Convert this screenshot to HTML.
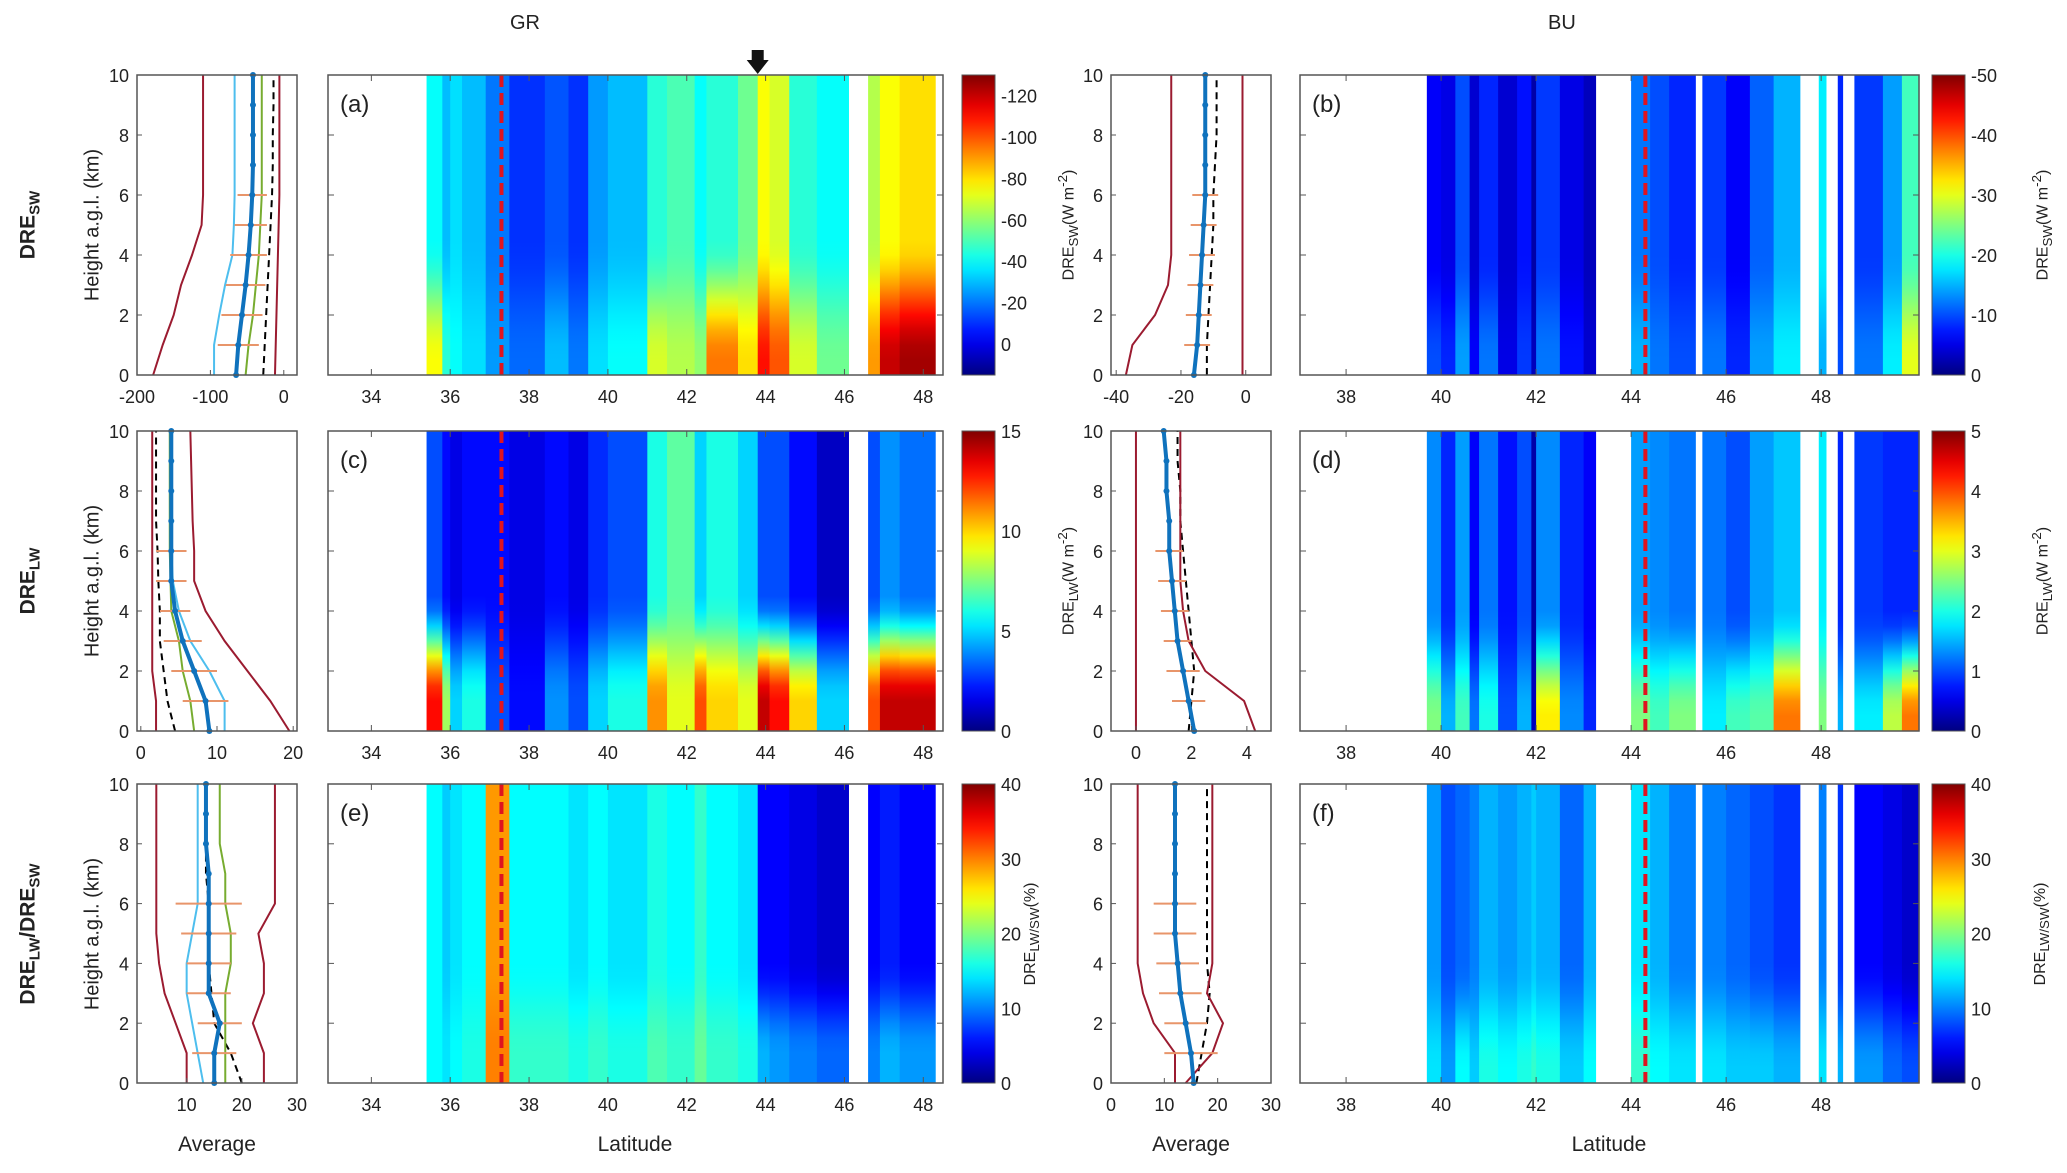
<!DOCTYPE html>
<html><head><meta charset="utf-8"><style>
html,body{margin:0;padding:0;background:#fff;}
svg{display:block;font-family:"Liberation Sans",sans-serif;}
</style></head><body>
<svg id="fig" width="2067" height="1173" viewBox="0 0 2067 1173" xmlns="http://www.w3.org/2000/svg"><defs id="defs"></defs></svg>
<script>
// ---------- data ----------
const heights = [0,1,2,3,4,5,6,7,8,9,10];
const errHeights = [1,2,3,4,5,6];
const grLatTicks = [34,36,38,40,42,44,46,48];
const buLatTicks = [38,40,42,44,46,48];
const hTicks = [0,2,4,6,8,10];
const grEdges = [35.4,35.8,36.0,36.3,36.9,37.5,38.4,39.0,39.5,40.0,41.0,41.5,42.2,42.5,43.3,43.8,44.1,44.6,45.3,46.1,46.6,46.9,47.4,48.3];
const buEdges = [39.7,40.0,40.3,40.6,40.8,41.2,41.6,41.9,42.0,42.5,43.0,43.25,44.0,44.4,44.8,45.35,45.5,46.0,46.5,47.0,47.55,47.95,48.1,48.35,48.45,48.7,49.3,49.7,50.06];
const N = null;
const aBot = [-75,-45,-40,-35,-25,-18,-30,-20,-35,-40,-70,-65,-60,-95,-80,-110,-100,-70,-55,N,-90,-120,-125];
const aTop = [-40,-30,-35,-30,-20,-10,-15,-10,-25,-30,-45,-50,-40,-45,-55,-75,-70,-45,-40,N,-65,-75,-80];
const cBot = [13,8,5,6,3,2,4,3,5,6,11,9,12,10,9,14,13,10,5,N,12,14,14];
const cTop = [3,2,1.5,2,2,1.5,2,1.5,2.5,3,6,7,5,6,5,3,3,2,1,N,3,4,3.5];
const eBot = [15,14,15,16,30,17,17,16,17,16,18,17,19,17,16,12,11,10,9,N,10,12,11];
const eTop = [15,13,14,15,29,15,15,14,15,14,16,15,17,15,14,5,5,4,3,N,5,6,5];
const bBot = [-10,-8,-14,-6,-12,-5,-9,-3,-12,-7,-4,N,-15,-12,-10,N,-12,-8,-14,-18,N,-15,N,-10,N,-12,-18,-30];
const bTop = [-6,-5,-10,-4,-8,-4,-7,-2,-9,-5,-3,N,-12,-10,-8,N,-9,-6,-11,-15,N,-18,N,-8,N,-9,-14,-22];
const dBot = [2.5,1.5,2.2,1.2,2,1,1.5,0.3,3.2,1.3,0.8,N,2.5,2.2,2.5,N,1.8,2.2,2.3,3.8,N,2.5,N,1.5,N,1.8,2.8,3.8];
const dTop = [1.3,0.8,1.4,0.6,1.2,0.7,1,0.2,1.3,0.8,0.6,N,1.4,1.3,1.2,N,1.2,1,1.4,1.6,N,1.8,N,0.8,N,0.9,0.8,0.8];
const fBot = [14,11,15,13,16,15,16,17,16,13,15,N,17,15,14,N,14,13,13,12,N,14,N,12,N,11,9,8];
const fTop = [11,8,9,10,12,11,12,13,12,9,12,N,14,12,10,N,10,9,8,7,N,10,N,7,N,5,4,3];
const cbTicksA = [-120,-100,-80,-60,-40,-20,0];
const cbTicksB = [-50,-40,-30,-20,-10,0];
const cbTicksC = [0,5,10,15];
const cbTicksD = [0,1,2,3,4,5];
const cbTicksE = [0,10,20,30,40];
// profile series
const pa = {redL:[-178,-165,-150,-140,-125,-112,-110,-110,-110,-110,-110], lblue:[-95,-95,-88,-80,-70,-68,-67,-67,-67,-67,-67], green:[-52,-48,-42,-38,-34,-32,-30,-30,-30,-30,-30], dash:[-28,-26,-24,-22,-20,-18,-16,-15,-15,-14,-14], redR:[-12,-11,-10,-9,-8,-7,-6,-6,-6,-6,-6], mean:[-65,-62,-57,-52,-48,-45,-43,-42,-42,-42,-42]};
const paErr = [28,28,27,25,22,20];
const pc = {redL:[2,2,1.5,1.5,1.5,1.5,1.5,1.5,1.5,1.5,1.5], dash:[4.5,3.5,3,2.5,2.5,2.3,2.2,2,2,2,2], green:[7,6.5,5.5,5,4,3.9,3.8,3.8,3.8,3.8,3.8], lblue:[11,11,9,6.5,5,4.2,4,4,4,4,4], redR:[19.5,17,14,11,8.5,7,7,6.8,6.7,6.6,6.5], mean:[9,8.5,7,5.5,4.5,4,4,4,4,4,4]};
const pcErr = [3,3,2.5,2,2,2];
const pe = {redL:[10,10,8,6,5,4.5,4.5,4.5,4.5,4.5,4.5], lblue:[13,12,11,10,10,11,12,12,12,12,12], dash:[20,18,15,14.5,14,14,14,13.5,13.5,13.5,13.5], green:[17,17,17,17,18,18,17,17,16,16,16], redR:[24,24,22,24,24,23,26,26,26,26,26], mean:[15,15,16,14,14,14,14,14,13.5,13.5,13.5]};
const peErr = [4,4,4,4,5,6];
const pb = {redL:[-37,-35,-28,-24,-23,-23,-23,-23,-23,-23,-23], dash:[-12,-12,-11.5,-11,-10.5,-10,-10,-9.5,-9,-9,-9], redR:[-1,-1,-1,-1,-1,-1,-1,-1,-1,-1,-1], mean:[-16,-15,-14.5,-14,-13.5,-13,-12.5,-12.5,-12.5,-12.5,-12.5]};
const pbErr = [4,4,4,4,4,4];
const pd = {redL:[0,0,0,0,0,0,0,0,0,0,0], dash:[1.9,2.0,2.1,2.0,1.9,1.8,1.7,1.6,1.6,1.5,1.5], redR:[4.3,3.9,2.5,1.9,1.7,1.6,1.6,1.6,1.6,1.6,1.6], mean:[2.1,1.9,1.7,1.5,1.4,1.3,1.2,1.2,1.1,1.1,1.0]};
const pdErr = [0.6,0.6,0.5,0.5,0.5,0.5];
const pf = {redL:[12,12,8,6,5,5,5,5,5,5,5], dash:[16,17,18,18.5,18,18,18,18,18,18,18], redR:[14,19,21,18,19,19,19,19,19,19,19], mean:[15.5,15,14,13,12.5,12,12,12,12,12,12]};
const pfErr = [5,4,4,4,4,4];

// ---------- helpers ----------
const NS="http://www.w3.org/2000/svg";
const svg=document.getElementById('fig'); const defs=document.getElementById('defs');
function mk(tag,attrs,parent){const e=document.createElementNS(NS,tag);for(const k in attrs)e.setAttribute(k,attrs[k]);(parent||svg).appendChild(e);return e;}
function jet(t){t=Math.max(0,Math.min(1,t));const c=x=>Math.round(255*Math.max(0,Math.min(1,1.5-Math.abs(x))));return `rgb(${c(4*t-3)},${c(4*t-2)},${c(4*t-1)})`;}
function txt(x,y,s,size,anchor,rot,parent){const t=mk('text',{x:x,y:y,'font-size':size,'text-anchor':anchor||'middle',fill:'#222'},parent);if(rot)t.setAttribute('transform',`rotate(${rot} ${x} ${y})`);t.textContent=s;return t;}
function prof(h,hb,ht){if(h<=hb)return 1;if(h>=ht)return 0;const u=(h-hb)/(ht-hb);return 1-u*u*(3-2*u);}
let gid=0;
const rowsY=[[75,375],[431,731],[784,1083]];
const GR={sx:137,sw:160,hx:328,hw:615,cx:962,cw:33,lat:[32.9,48.5]};
const BU={sx:1111,sw:160,hx:1300,hw:619,cx:1932,cw:33,lat:[37.03,50.06]};

function heat(col,row,edges,bot,top,blue,red,hb,ht,dashLat,label,latTicks){
  const [y0,y1]=rowsY[row]; const H=y1-y0;
  const xs=l=>col.hx+(l-col.lat[0])/(col.lat[1]-col.lat[0])*col.hw;
  const g=mk('g',{});
  
  
  for(let i=0;i<bot.length;i++){
    if(bot[i]===null)continue;
    const id='g'+(gid++);
    const lg=mk('linearGradient',{id:id,x1:0,y1:1,x2:0,y2:0},defs);
    for(let k=0;k<=20;k++){const h=k/2;const v=top[i]+(bot[i]-top[i])*prof(h,hb,ht);mk('stop',{offset:h/10,'stop-color':jet((v-blue)/(red-blue))},lg);}
    const r=mk('rect',{x:xs(edges[i]),y:y0,width:xs(edges[i+1])-xs(edges[i])+0.6,height:H,fill:`url(#${id})`},g);
    
    
  }
  const dl=mk('line',{x1:xs(dashLat),x2:xs(dashLat),y1:y0,y2:y1,stroke:'#e0141e','stroke-width':4,'stroke-dasharray':'12 6'},g);
  
  
  const fr=mk('rect',{x:col.hx,y:y0,width:col.hw,height:H,fill:'none',stroke:'#555','stroke-width':1.5},g);
  
  
  latTicks.forEach(l=>{mk('line',{x1:xs(l),x2:xs(l),y1:y1,y2:y1-6,stroke:'#555'},g);mk('line',{x1:xs(l),x2:xs(l),y1:y0,y2:y0+6,stroke:'#555'},g);
    const t=txt(xs(l),y1+28,String(l),18,'middle',0,g);});
  hTicks.forEach(h=>{const yy=y1-h/10*H;mk('line',{x1:col.hx,x2:col.hx+6,y1:yy,y2:yy,stroke:'#555'},g);mk('line',{x1:col.hx+col.hw,x2:col.hx+col.hw-6,y1:yy,y2:yy,stroke:'#555'},g);});
  const pl=txt(col.hx+12,y0+37,'('+label+')',24,'start',0,g);
  
  
}
function cbar(col,row,blue,red,ticks,name){
  const [y0,y1]=rowsY[row]; const H=y1-y0;
  const id='cb'+(gid++);
  const lg=mk('linearGradient',{id:id,x1:0,y1:1,x2:0,y2:0},defs);
  for(let i=0;i<=20;i++)mk('stop',{offset:i/20,'stop-color':jet(i/20)},lg);
  const r=mk('rect',{x:col.cx,y:y0,width:col.cw,height:H,fill:`url(#${id})`,stroke:'#555','stroke-width':1});
  
  
  ticks.forEach(v=>{const yy=y1-(v-blue)/(red-blue)*H;const t=txt(col.cx+col.cw+6,yy+7,String(v),18,'start');
    });
}
function profile(col,row,xr,xticks,series,err,name){
  const [y0,y1]=rowsY[row]; const H=y1-y0;
  const xs=v=>col.sx+(v-xr[0])/(xr[1]-xr[0])*col.sw; const ys=h=>y1-h/10*H;
  const g=mk('g',{});
  
  
  const styles={redL:['#9b1b30',2,''],redR:['#9b1b30',2,''],lblue:['#4dbeee',2,''],green:['#77ac30',2,''],dash:['#000',2,'7 5'],mean:['#0f72bd',4,'']};
  for(const k in series){
    const pts=series[k].map((v,i)=>xs(v)+','+ys(heights[i])).join(' ');
    const pl=mk('polyline',{points:pts,fill:'none',stroke:styles[k][0],'stroke-width':styles[k][1],'stroke-dasharray':styles[k][2]},g);
    
    
  }
  errHeights.forEach((h,i)=>{const m=series.mean[h];const e=mk('line',{x1:xs(m-err[i]),x2:xs(m+err[i]),y1:ys(h),y2:ys(h),stroke:'#e8956a','stroke-width':2},g);
    });
  series.mean.forEach((v,i)=>{const c=mk('circle',{cx:xs(v),cy:ys(heights[i]),r:3,fill:'#0f72bd'},g);});
  const fr=mk('rect',{x:col.sx,y:y0,width:col.sw,height:H,fill:'none',stroke:'#555','stroke-width':1.5},g);
  
  
  xticks.forEach(v=>{mk('line',{x1:xs(v),x2:xs(v),y1:y1,y2:y1-5,stroke:'#555'},g);const t=txt(xs(v),y1+28,String(v),18,'middle',0,g);});
  hTicks.forEach(h=>{mk('line',{x1:col.sx,x2:col.sx+5,y1:ys(h),y2:ys(h),stroke:'#555'},g);const t=txt(col.sx-8,ys(h)+7,String(h),18,'end',0,g);});
}

// ---------- build ----------
heat(GR,0,grEdges,aBot,aTop,15,-130,0.5,4.5,37.3,'a',grLatTicks);
heat(GR,1,grEdges,cBot,cTop,0,15,1,4.5,37.3,'c',grLatTicks);
heat(GR,2,grEdges,eBot,eTop,0,40,1,4,37.3,'e',grLatTicks);
heat(BU,0,buEdges,bBot,bTop,0,-50,0.5,4,44.3,'b',buLatTicks);
heat(BU,1,buEdges,dBot,dTop,0,5,0.5,4,44.3,'d',buLatTicks);
heat(BU,2,buEdges,fBot,fTop,0,40,0.5,4,44.3,'f',buLatTicks);
cbar(GR,0,15,-130,cbTicksA,'a');cbar(GR,1,0,15,cbTicksC,'c');cbar(GR,2,0,40,cbTicksE,'e');
cbar(BU,0,0,-50,cbTicksB,'b');cbar(BU,1,0,5,cbTicksD,'d');cbar(BU,2,0,40,cbTicksE,'f');
profile(GR,0,[-200,18],[-200,-100,0],pa,paErr,'a');
profile(GR,1,[-0.5,20.5],[0,10,20],pc,pcErr,'c');
profile(GR,2,[1,30],[10,20,30],pe,peErr,'e');
profile(BU,0,[-41.6,7.8],[-40,-20,0],pb,pbErr,'b');
profile(BU,1,[-0.9,4.87],[0,2,4],pd,pdErr,'d');
profile(BU,2,[0,30],[0,10,20,30],pf,pfErr,'f');

// arrow above panel a
const arX=GR.hx+(43.8-GR.lat[0])/(GR.lat[1]-GR.lat[0])*GR.hw;
const ar=mk('polygon',{points:`${arX-6},50 ${arX+6},50 ${arX+6},60 ${arX+11},60 ${arX},74 ${arX-11},60 ${arX-6},60`,fill:'#111'});


</script>
<div style="position:absolute;left:0;top:0;width:2067px;height:1173px;pointer-events:none;font-family:'Liberation Sans',sans-serif;color:#222">
<div style="position:absolute;left:510px;top:12px;font-size:20px">GR</div>
<div style="position:absolute;left:1548px;top:12px;font-size:20px">BU</div>
<div style="position:absolute;left:30px;top:225px;transform:translate(-50%,-50%) rotate(-90deg);font-size:21px;font-weight:bold;white-space:nowrap">DRE<sub style="font-size:15px">SW</sub></div>
<div style="position:absolute;left:30px;top:581px;transform:translate(-50%,-50%) rotate(-90deg);font-size:21px;font-weight:bold;white-space:nowrap">DRE<sub style="font-size:15px">LW</sub></div>
<div style="position:absolute;left:30px;top:934px;transform:translate(-50%,-50%) rotate(-90deg);font-size:21px;font-weight:bold;white-space:nowrap">DRE<sub style="font-size:15px">LW</sub>/DRE<sub style="font-size:15px">SW</sub></div>
<div style="position:absolute;left:93px;top:225px;transform:translate(-50%,-50%) rotate(-90deg);font-size:20px;white-space:nowrap">Height a.g.l. (km)</div>
<div style="position:absolute;left:93px;top:581px;transform:translate(-50%,-50%) rotate(-90deg);font-size:20px;white-space:nowrap">Height a.g.l. (km)</div>
<div style="position:absolute;left:93px;top:934px;transform:translate(-50%,-50%) rotate(-90deg);font-size:20px;white-space:nowrap">Height a.g.l. (km)</div>
<div style="position:absolute;left:1068px;top:225px;transform:translate(-50%,-50%) rotate(-90deg);font-size:16px;white-space:nowrap">DRE<sub>SW</sub>(W m<sup>-2</sup>)</div>
<div style="position:absolute;left:1068px;top:581px;transform:translate(-50%,-50%) rotate(-90deg);font-size:16px;white-space:nowrap">DRE<sub>LW</sub>(W m<sup>-2</sup>)</div>
<div style="position:absolute;left:1032px;top:934px;transform:translate(-50%,-50%) rotate(-90deg);font-size:16px;white-space:nowrap">DRE<sub>LW/SW</sub>(%)</div>
<div style="position:absolute;left:2042px;top:225px;transform:translate(-50%,-50%) rotate(-90deg);font-size:16px;white-space:nowrap">DRE<sub>SW</sub>(W m<sup>-2</sup>)</div>
<div style="position:absolute;left:2042px;top:581px;transform:translate(-50%,-50%) rotate(-90deg);font-size:16px;white-space:nowrap">DRE<sub>LW</sub>(W m<sup>-2</sup>)</div>
<div style="position:absolute;left:2042px;top:934px;transform:translate(-50%,-50%) rotate(-90deg);font-size:16px;white-space:nowrap">DRE<sub>LW/SW</sub>(%)</div>
<div style="position:absolute;left:217px;top:1133px;transform:translateX(-50%);font-size:21px">Average</div>
<div style="position:absolute;left:635px;top:1133px;transform:translateX(-50%);font-size:21px">Latitude</div>
<div style="position:absolute;left:1191px;top:1133px;transform:translateX(-50%);font-size:21px">Average</div>
<div style="position:absolute;left:1609px;top:1133px;transform:translateX(-50%);font-size:21px">Latitude</div>
</div>
</body></html>
